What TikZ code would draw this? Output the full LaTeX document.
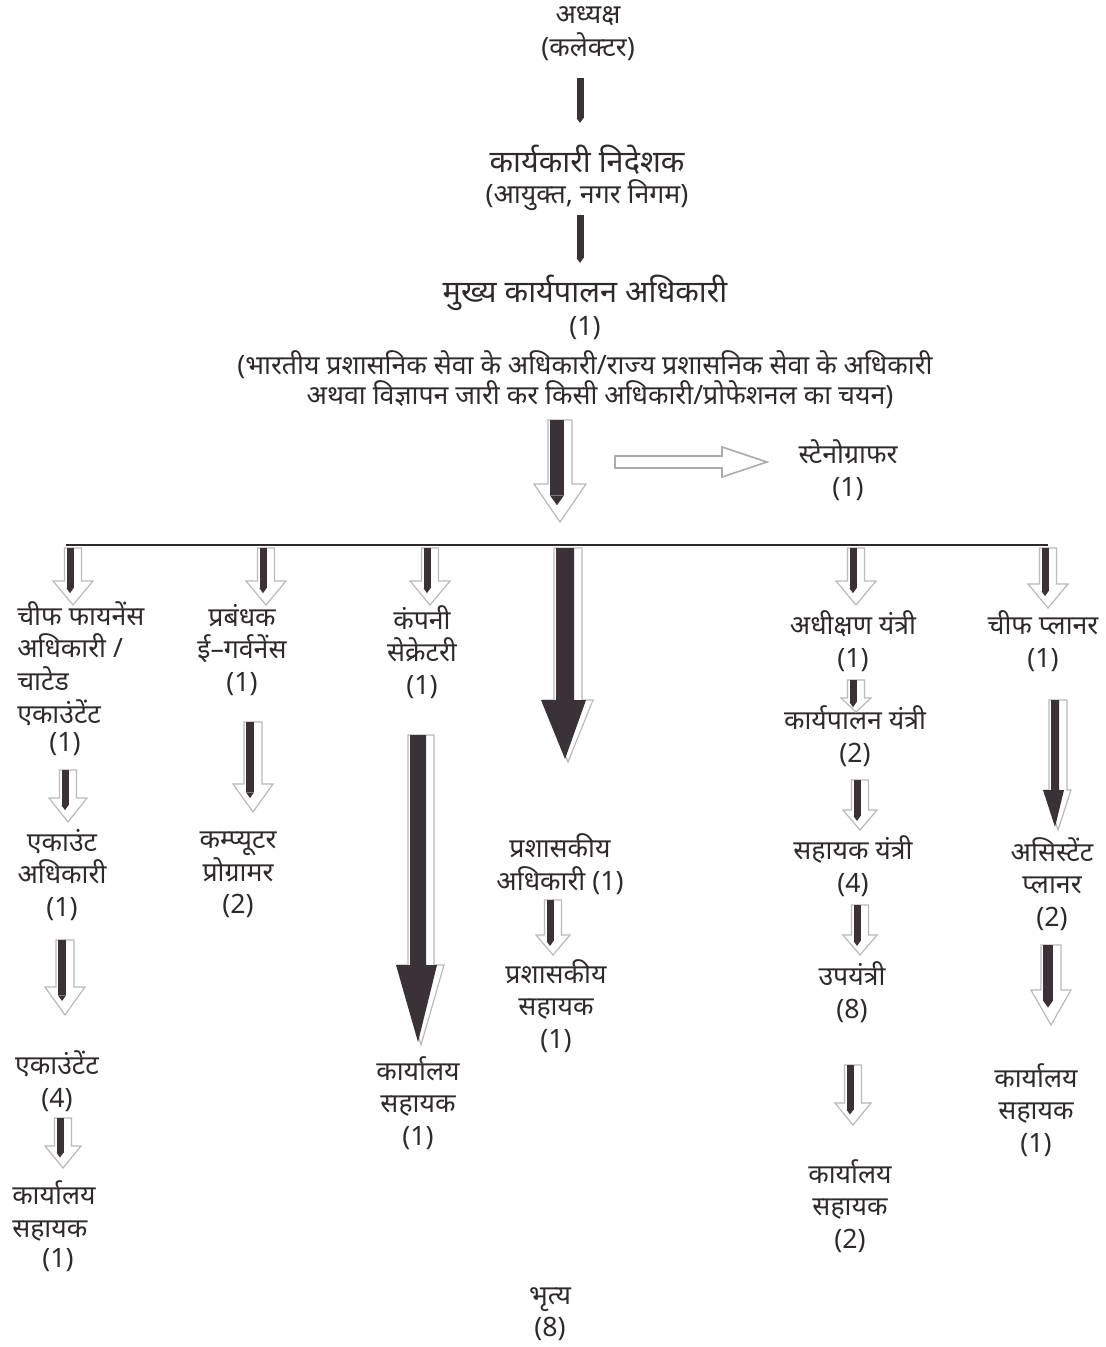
\documentclass[tikz,border=0pt]{standalone}
\usepackage{fontspec}
\setmainfont[Script=Devanagari]{Noto Sans}
\usetikzlibrary{calc}
\definecolor{shaftc}{HTML}{3A3236}
\definecolor{txtc}{HTML}{2E2A2C}
\tikzset{
  lbl/.style={inner sep=0pt, align=center, text=txtc, font=\fontsize{20}{24.5}\selectfont},
  lbll/.style={lbl, align=left},
  ttl/.style={lbl, font=\fontsize{23}{26}\selectfont},
  outl/.style={draw=gray!55, fill=white, line width=0.9pt, line join=miter},
  outl2/.style={draw=gray!65, fill=white, line width=1.2pt, line join=miter},
}
% #1 from node, #2 to node, #3 dx, #4 top offset, #5 tip offset above #2,
% #6 bar width, #7 head width, #8 head length, #9 type (0 open head, 1 dark head, 2 plain bar)
\newcommand\conn[9]{%
  \coordinate (cS) at ($#1+(#3,#4)$);
  \coordinate (cE) at ($#2+(0,-#5)$);
  \coordinate (cT) at (cS |- cE);
  \coordinate (cB) at ($(cT)+(0,-#8)$);
  \ifnum#9<2
    \draw[outl] ($(cS)+({-#6/2-2},0)$) -- ($(cS)+({#6/2+8},0)$) -- ($(cB)+({#6/2+8},0)$)
      -- ($(cB)+({#7/2+3},0)$) -- ($(cT)+(3,0)$) -- ($(cB)+({-#7/2+3},0)$)
      -- ($(cB)+({-#6/2-2},0)$) -- cycle;
  \fi
  \ifnum#9=1
    \fill[shaftc] ($(cS)+({-#6/2},0)$) -- ($(cS)+({#6/2},0)$) -- ($(cB)+({#6/2},0)$)
      -- ($(cB)+({#7/2-4},0)$) -- ($(cT)+(0,-3)$) -- ($(cB)+({-#7/2+1},0)$)
      -- ($(cB)+({-#6/2},0)$) -- cycle;
  \else
    \fill[shaftc] ($(cS)+({-#6/2},0)$) rectangle ($(cB)+({#6/2},{#8*0.3})$);
    \fill[shaftc] ($(cB)+({-#6/2},{#8*0.3})$) -- ($(cB)+({#6/2},{#8*0.3})$)
      -- ($(cB)+(0,{#8*0.3+#6*0.7})$) -- cycle;
  \fi
}
\begin{document}
\begin{tikzpicture}[x=0.75pt,y=-0.75pt]
\useasboundingbox (0,0) rectangle (1106,1347);

% top chain
\node[lbl] (n1) at (588,34) {अध्यक्ष\\(कलेक्टर)};
\node[ttl] (n2) at (587,160) {कार्यकारी निदेशक};
\node[lbl] (n2b) at (587,195) {(आयुक्त, नगर निगम)};
\node[ttl] (ceo) at (585,293) {मुख्य कार्यपालन अधिकारी};
\node[lbl] (ceon) at (585,328) {(1)};
\node[lbl] (ceod1) at (585,365) {(भारतीय प्रशासनिक सेवा के अधिकारी/राज्य प्रशासनिक सेवा के अधिकारी};
\node[lbl] (ceod2) at (600,395) {अथवा विज्ञापन जारी कर किसी अधिकारी/प्रोफेशनल का चयन)};
\node[lbl] (steno) at (848,470) {स्टेनोग्राफर\\(1)};

\conn{(n1)}{(n2)}{-8}{44}{42}{7}{0}{0}{2}
\conn{(n2b)}{(ceo)}{-7}{20}{35}{7}{0}{0}{2}

% bus
\coordinate (busL) at (66,545);
\coordinate (busR) at (1048,545);
\coordinate (busM) at (557,545);
\coordinate (b1) at (70,545);
\coordinate (b2) at (263,545);
\coordinate (b3) at (427,545);
\coordinate (b4) at (565,545);
\coordinate (b5) at (853,545);
\coordinate (b6) at (1045,545);
\draw[line width=2.2pt, draw=txtc] (busL) -- (busR);

\conn{(ceod2)}{(busM)}{-43}{25}{23}{14}{52}{38}{0}

% stenographer arrow
\coordinate (stenoFrom) at (615,462);
\coordinate (sT) at ($(steno)+(-81,-8)$);
\draw[outl2] ($(stenoFrom)+(0,-6)$) -- ($(sT)+(-45,-6)$) -- ($(sT)+(-45,-15)$) -- (sT)
  -- ($(sT)+(-45,15)$) -- ($(sT)+(-45,6)$) -- ($(stenoFrom)+(0,6)$) -- cycle;

% column 1
\node[lbll, anchor=west] (cfo) at (17,663.5) {चीफ फायनेंस\\अधिकारी /\\चाटेड\\एकाउंटेंट};
\node[lbl] (cfon) at (65,744) {(1)};
\node[lbl] (ao) at (62,875) {एकाउंट\\अधिकारी\\(1)};
\node[lbl] (acc) at (57,1081) {एकाउंटेंट\\(4)};
\node[lbll, anchor=west] (oa1) at (12,1211) {कार्यालय\\सहायक};
\node[lbl] (oa1n) at (58,1260) {(1)};
\conn{(b1)}{(cfo)}{0}{3}{58.5}{7}{40}{24}{0}
\conn{(cfon)}{(ao)}{0}{26}{53}{7}{38}{24}{0}
\conn{(ao)}{(acc)}{0}{65}{66}{8}{40}{28}{0}
\conn{(acc)}{(oa1)}{3}{37}{43}{7}{36}{22}{0}

% column 2
\node[lbl] (pm) at (242,650) {प्रबंधक\\ई–गर्वनेंस\\(1)};
\node[lbl] (cp) at (238,875) {कम्प्यूटर\\प्रोग्रामर\\(2)};
\conn{(b2)}{(pm)}{0}{3}{45}{7}{40}{24}{0}
\conn{(pm)}{(cp)}{8}{72}{63}{8}{40}{28}{0}

% column 3
\node[lbl] (cs) at (422,652) {कंपनी\\सेक्रेटरी\\(1)};
\node[lbl] (oa3) at (418,1103) {कार्यालय\\सहायक\\(1)};
\conn{(b3)}{(cs)}{0}{3}{47}{7}{40}{24}{0}
\conn{(cs)}{(oa3)}{-4}{83}{58}{16}{46}{80}{1}

% column 4
\node[lbl] (pa) at (560,864) {प्रशासकीय\\अधिकारी (1)};
\node[lbl] (ps) at (556,1006) {प्रशासकीय\\सहायक\\(1)};
\conn{(b4)}{(pa)}{0}{3}{102}{18}{50}{62}{1}
\conn{(pa)}{(ps)}{-10}{36}{51}{7}{34}{20}{0}

% column 5
\node[lbl] (se) at (853,641) {अधीक्षण यंत्री\\(1)};
\node[lbl] (ee) at (855,736) {कार्यपालन यंत्री\\(2)};
\node[lbl] (ae) at (853,866) {सहायक यंत्री\\(4)};
\node[lbl] (je) at (852,992) {उपयंत्री\\(8)};
\node[lbl] (oa5) at (850,1206) {कार्यालय\\सहायक\\(2)};
\conn{(b5)}{(se)}{0}{3}{36}{7}{40}{24}{0}
\conn{(se)}{(ee)}{0}{39}{24}{7}{30}{14}{0}
\conn{(ee)}{(ae)}{2}{44}{36}{7}{34}{20}{0}
\conn{(ae)}{(je)}{4}{39}{37}{7}{34}{20}{0}
\conn{(je)}{(oa5)}{-2}{73}{81}{7}{36}{22}{0}

% column 6
\node[lbl] (cpl) at (1043,641) {चीफ प्लानर\\(1)};
\node[lbl] (apl) at (1052,884) {असिस्टेंट\\प्लानर\\(2)};
\node[lbl] (oa6) at (1036,1110) {कार्यालय\\सहायक\\(1)};
\conn{(b6)}{(cpl)}{0}{3}{33}{7}{40}{24}{0}
\conn{(cpl)}{(apl)}{12}{59}{54}{8}{26}{40}{1}
\conn{(apl)}{(oa6)}{-4}{61}{85}{10}{40}{35}{0}

% bottom
\node[lbl] (bh) at (550,1314) {भृत्य\\(8)};
\end{tikzpicture}
\end{document}
